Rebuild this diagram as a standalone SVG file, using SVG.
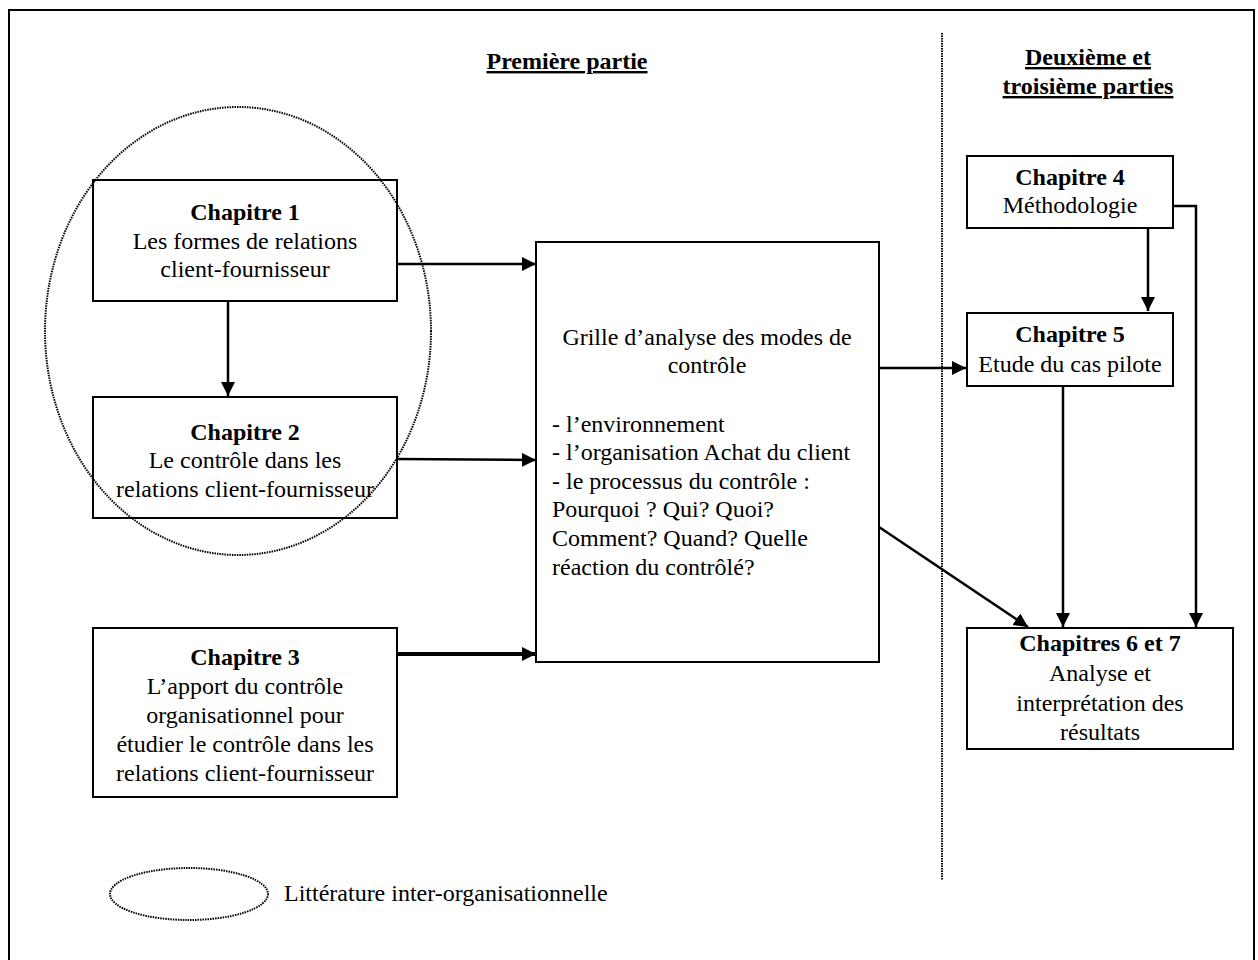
<svg xmlns="http://www.w3.org/2000/svg" width="1258" height="960" viewBox="0 0 1258 960">
<style>
text{font-family:"Liberation Serif","Times New Roman",serif;font-size:24px;fill:#000}
.b{font-weight:bold}
.c{text-anchor:middle}
.u{text-decoration:underline}
.box{fill:#fff;stroke:#000;stroke-width:2}
.ln{fill:none;stroke:#000;stroke-width:2.5}
.dot{fill:none;stroke:#000;stroke-width:2;stroke-dasharray:1.5 1}
</style>
<defs>
<marker id="ah" viewBox="0 0 10 10" refX="10" refY="5" markerWidth="5.6" markerHeight="5.6" markerUnits="strokeWidth" orient="auto">
<path d="M0,0 L10,5 L0,10 z" fill="#000"/>
</marker>
<marker id="ah2" viewBox="0 0 10 10" refX="10" refY="5" markerWidth="3.5" markerHeight="3.5" markerUnits="strokeWidth" orient="auto">
<path d="M0,0 L10,5 L0,10 z" fill="#000"/>
</marker>
</defs>
<rect x="0" y="0" width="1258" height="960" fill="#fff"/>
<rect x="9" y="10" width="1245" height="960" fill="none" stroke="#000" stroke-width="2"/>
<line x1="942" y1="33" x2="942" y2="880" class="dot"/>
<g id="titles">
<text x="567" y="69" class="b c u">Première partie</text>
<text x="1088" y="65" class="b c u">Deuxième et</text>
<text x="1088" y="94" class="b c u">troisième parties</text>
</g>
<g id="litterature">
<ellipse cx="238" cy="331" rx="193" ry="224" class="dot"/>
</g>
<g id="connectors">
<line x1="228" y1="301" x2="228" y2="396" class="ln" marker-end="url(#ah)"/>
<line x1="397" y1="264" x2="536" y2="264" class="ln" marker-end="url(#ah)"/>
<line x1="397" y1="459" x2="536" y2="460" class="ln" marker-end="url(#ah)"/>
<line x1="397" y1="654" x2="536" y2="654" class="ln" style="stroke-width:4" marker-end="url(#ah2)"/>
<line x1="879" y1="368" x2="966" y2="368" class="ln" marker-end="url(#ah)"/>
<line x1="879" y1="527" x2="1028" y2="627" class="ln" marker-end="url(#ah)"/>
<line x1="1148" y1="228" x2="1148" y2="311" class="ln" marker-end="url(#ah)"/>
<line x1="1063" y1="386" x2="1063" y2="627" class="ln" marker-end="url(#ah)"/>
<polyline points="1173,206 1196,206 1196,627" class="ln" marker-end="url(#ah)"/>
</g>
<g id="ch1">
<rect x="93" y="180" width="304" height="121" class="box" style="fill:none"/>
<text x="245" y="220" class="b c">Chapitre 1</text>
<text x="245" y="249" class="c">Les formes de relations</text>
<text x="245" y="277" class="c">client-fournisseur</text>
</g>
<g id="ch2">
<rect x="93" y="397" width="304" height="121" class="box" style="fill:none"/>
<text x="245" y="440" class="b c">Chapitre 2</text>
<text x="245" y="468" class="c">Le contrôle dans les</text>
<text x="245" y="497" class="c">relations client-fournisseur</text>
</g>
<g id="ch3">
<rect x="93" y="628" width="304" height="169" class="box"/>
<text x="245" y="665" class="b c">Chapitre 3</text>
<text x="245" y="694" class="c">L’apport du contrôle</text>
<text x="245" y="723" class="c">organisationnel pour</text>
<text x="245" y="752" class="c">étudier le contrôle dans les</text>
<text x="245" y="781" class="c">relations client-fournisseur</text>
</g>
<g id="grille">
<rect x="536" y="242" width="343" height="420" class="box"/>
<text x="707" y="345" class="c">Grille d’analyse des modes de</text>
<text x="707" y="373" class="c">contrôle</text>
<text x="552" y="432">- l’environnement</text>
<text x="552" y="460">- l’organisation Achat du client</text>
<text x="552" y="489">- le processus du contrôle :</text>
<text x="552" y="517">Pourquoi ? Qui? Quoi?</text>
<text x="552" y="546">Comment? Quand? Quelle</text>
<text x="552" y="575">réaction du contrôlé?</text>
</g>
<g id="ch4">
<rect x="967" y="156" width="206" height="72" class="box"/>
<text x="1070" y="185" class="b c">Chapitre 4</text>
<text x="1070" y="213" class="c">Méthodologie</text>
</g>
<g id="ch5">
<rect x="967" y="313" width="206" height="73" class="box"/>
<text x="1070" y="342" class="b c">Chapitre 5</text>
<text x="1070" y="372" class="c">Etude du cas pilote</text>
</g>
<g id="ch67">
<rect x="967" y="628" width="266" height="121" class="box"/>
<text x="1100" y="651" class="b c">Chapitres 6 et 7</text>
<text x="1100" y="681" class="c">Analyse et</text>
<text x="1100" y="711" class="c">interprétation des</text>
<text x="1100" y="740" class="c">résultats</text>
</g>
<g id="legende">
<ellipse cx="189" cy="894" rx="79" ry="26" class="dot"/>
<text x="284" y="901">Littérature inter-organisationnelle</text>
</g>
</svg>
